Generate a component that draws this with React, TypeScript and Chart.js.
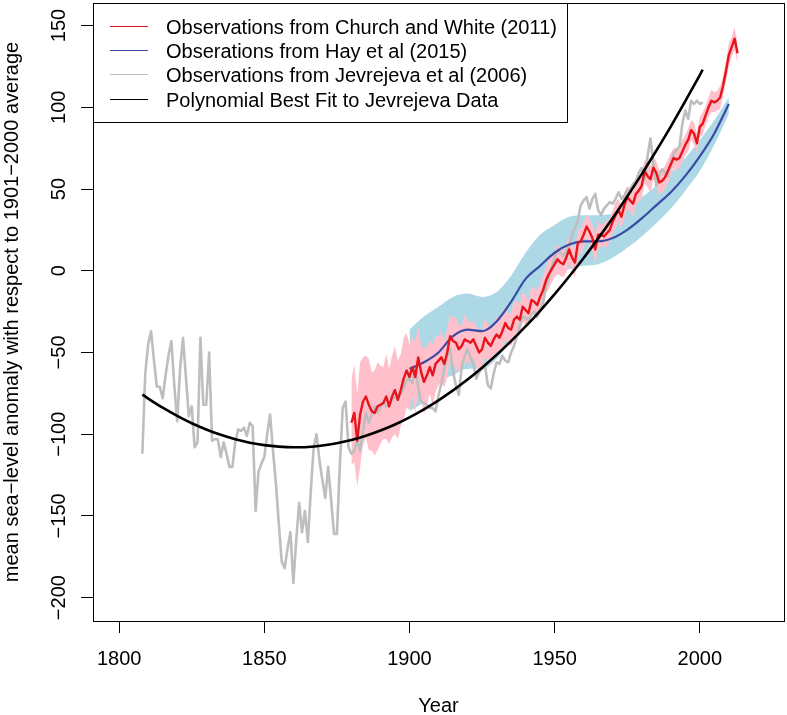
import React, { useEffect, useRef } from "react";
import { Chart, registerables } from "chart.js";

Chart.register(...registerables);

const FONT = '"Liberation Sans", Arial, Helvetica, sans-serif';

// Jevrejeva et al (2006), annual, starting 1808
const jevStartYear = 1808;
const jevValues = [
  -112, -63,
  -45, -37, -55, -71, -71, -78, -64, -52, -43, -70,
  -92, -60, -41, -65, -89, -83, -108, -105, -41, -82,
  -82, -50, -104, -103, -103, -114, -105, -112, -120, -120,
  -105, -97, -98, -96, -101, -93, -95, -147, -123, -118,
  -114, -100, -88, -110, -130, -155, -178, -182, -170, -160,
  -191, -165, -142, -160, -147, -166, -135, -108, -100, -116,
  -128, -139, -120, -140, -161, -161, -120, -84, -80, -108,
  -112, -110, -104, -110, -98, -87, -93, -88, -83, -87,
  -84, -80, -83, -82, -79, -77, -78, -75, -72, -67,
  -66, -69, -59, -71, -80, -81, -82, -84, -84, -86,
  -76, -69, -60, -52, -48, -62, -70, -76, -59, -52,
  -48, -53, -57, -66, -62, -60, -58, -70, -72, -63,
  -56, -57, -52, -55, -56, -50, -46, -40, -34, -28,
  -29, -30, -27, -25, -28, -24, -20, -10, -4, 2,
  8, 13, 11, 9, 12, 15, 22, 26, 31, 40,
  43, 45, 38, 44, 47, 37, 34, 38, 40, 42,
  41, 44, 48, 44, 46, 49, 50, 53, 55, 60,
  63, 56, 70, 81, 66, 52, 58, 62, 60, 58,
  65, 72, 74, 76, 90, 98, 93, 104, 102, 104,
  102, 103,
];

// Church and White (2011), annual, starting 1880
const cwStartYear = 1880;
const cwValues = [
  -93, -87, -104, -88, -80, -77, -82, -86, -87, -83,
  -82, -81, -77, -83, -77, -73, -79, -73, -66, -61,
  -65, -59, -65, -53, -62, -68, -64, -59, -64, -57,
  -55, -53, -57, -50, -40, -43, -44, -48, -46, -42,
  -43, -44, -42, -46, -50, -48, -41, -44, -46, -42,
  -39, -41, -37, -32, -35, -36, -30, -28, -30, -22,
  -24, -26, -18, -19, -21, -16, -12, -6, -2, 1,
  4, 7, 5, 4, 8, 13, 8, 5, 17, 18,
  22, 27, 24, 20, 13, 22, 22, 21, 23, 25,
  30, 34, 37, 33, 40, 45, 43, 41, 47, 49,
  52, 61, 58, 56, 63, 60, 54, 55, 57, 61,
  65, 69, 68, 69, 73, 77, 80, 86, 84, 78,
  88, 90, 95, 100, 104, 103, 104, 106, 113, 122,
  132, 137, 142, 133,
];
// Church and White uncertainty (half-width of the pink band)
const cwErr = [
  26, 30, 28, 32, 27, 25, 28, 24, 26, 27,
  24, 22, 26, 23, 25, 27, 24, 22, 25, 23,
  20, 18, 22, 19, 17, 20, 18, 16, 19, 17,
  15, 16, 14, 15, 13, 14, 16, 14, 13, 15,
  12, 13, 11, 12, 13, 11, 12, 11, 12, 10,
  11, 10, 11, 10, 9, 10, 11, 9, 10, 9,
  9, 8, 9, 8, 9, 8, 9, 8, 9, 8,
  8, 9, 8, 8, 9, 8, 8, 9, 8, 8,
  8, 7, 8, 8, 9, 8, 7, 7, 8, 7,
  7, 8, 7, 7, 8, 7, 7, 8, 7, 7,
  8, 7, 7, 8, 7, 7, 8, 7, 7, 7,
  7, 6, 7, 6, 7, 6, 7, 6, 7, 6,
  6, 7, 6, 6, 7, 6, 6, 7, 6, 6,
  7, 6, 7, 6,
];

// Hay et al (2015)
const hayYears = [1900, 1905, 1910, 1915, 1920, 1925, 1930, 1935, 1940, 1945, 1950, 1955, 1960, 1965, 1970, 1975, 1980, 1985, 1990, 1995, 2000, 2005, 2010];
const hayValues = [-60, -56, -50, -40, -36, -37, -31, -19, -5, 3, 11, 16, 18, 18, 20, 25, 32, 40, 48, 58, 70, 84, 102];
const hayUpper = [-36, -28, -22, -16, -14, -16, -13, -3, 11, 22, 28, 33, 34, 34, 35, 39, 45, 52, 60, 69, 80, 92, 106];
const hayLower = [-86, -80, -68, -64, -60, -60, -54, -42, -28, -16, -3, 1, 3, 4, 8, 14, 21, 29, 38, 49, 61, 77, 96];

// Polynomial best fit to Jevrejeva data
const fitYears = [1808, 1810, 1815, 1820, 1825, 1830, 1835, 1840, 1845, 1850, 1855, 1860, 1865, 1870, 1875, 1880, 1885, 1890, 1895, 1900, 1905, 1910, 1915, 1920, 1925, 1930, 1935, 1940, 1945, 1950, 1955, 1960, 1965, 1970, 1975, 1980, 1985, 1990, 1995, 2000, 2001];
const fitValues = [-75.8, -78.2, -83.8, -88.8, -93.3, -97.1, -100.4, -103.1, -105.2, -106.7, -107.6, -108, -107.8, -106.9, -105.5, -103.6, -101, -97.8, -94.1, -89.7, -84.8, -79.3, -73.2, -66.6, -59.3, -51.5, -43.1, -34.1, -24.5, -14.3, -3.5, 7.8, 19.8, 32.3, 45.4, 59.1, 73.4, 88.2, 103.7, 119.7, 123];

const xTicks = [1800, 1850, 1900, 1950, 2000];
const yTicks = [-200, -150, -100, -50, 0, 50, 100, 150];

const legendLabels = [
  "Observations from Church and White (2011)",
  "Obserations from Hay et al (2015)",
  "Observations from Jevrejeva et al (2006)",
  "Polynomial Best Fit to Jevrejeva Data",
];
const legendColors = ["#e8141c", "#3a4ba5", "#bebebe", "#000000"];

const xTitle = "Year";
const yTitle = "mean sea\u2212level anomaly with respect to 1901\u22122000 average";

const fmtTick = (v: number) => (v < 0 ? "\u2212" + Math.abs(v) : String(v));

const decorPlugin = {
  id: "decor",
  afterDraw(chart: any) {
    const { ctx, chartArea, scales } = chart;
    const { left, top, right, bottom } = chartArea;
    const x = scales.x;
    const y = scales.y;
    ctx.save();
    // plot box
    ctx.strokeStyle = "#000";
    ctx.lineWidth = 1;
    ctx.strokeRect(left + 0.5, top + 0.5, right - left, bottom - top);

    ctx.fillStyle = "#000";
    ctx.font = `20px ${FONT}`;
    // x tick labels
    ctx.textAlign = "center";
    ctx.textBaseline = "alphabetic";
    xTicks.forEach((v) => {
      ctx.fillText(String(v), x.getPixelForValue(v), 665);
    });
    // y tick labels (rotated)
    yTicks.forEach((v) => {
      ctx.save();
      ctx.translate(65, y.getPixelForValue(v));
      ctx.rotate(-Math.PI / 2);
      ctx.fillText(fmtTick(v), 0, 0);
      ctx.restore();
    });
    // axis titles
    ctx.fillText(xTitle, (left + right) / 2, 712);
    ctx.save();
    ctx.translate(18, (top + bottom) / 2);
    ctx.rotate(-Math.PI / 2);
    ctx.fillText(yTitle, 0, 0);
    ctx.restore();

    // legend
    const textX = left + 73;
    let maxW = 0;
    legendLabels.forEach((l) => {
      maxW = Math.max(maxW, ctx.measureText(l).width);
    });
    const boxW = Math.round(textX - left + maxW + 10);
    const boxH = 119;
    ctx.fillStyle = "#fff";
    ctx.fillRect(left + 0.5, top + 0.5, boxW, boxH);
    ctx.strokeStyle = "#000";
    ctx.lineWidth = 1;
    ctx.strokeRect(left + 0.5, top + 0.5, boxW, boxH);
    ctx.textAlign = "left";
    legendLabels.forEach((l, i) => {
      const ly = Math.round(top + 23 + 24.2 * i) + 0.5;
      ctx.strokeStyle = legendColors[i];
      ctx.lineWidth = 1;
      ctx.beginPath();
      ctx.moveTo(left + 17, ly);
      ctx.lineTo(left + 55, ly);
      ctx.stroke();
      ctx.fillStyle = "#000";
      ctx.fillText(l, textX, top + 31 + 24.2 * i);
    });
    ctx.restore();
  },
};

export default function App() {
  const canvasRef = useRef<HTMLCanvasElement | null>(null);

  useEffect(() => {
    const canvas = canvasRef.current;
    if (!canvas) return;

    const jevPts = jevValues.map((v, i) => ({ x: jevStartYear + i, y: v }));
    const cwPts = cwValues.map((v, i) => ({ x: cwStartYear + i, y: v }));
    const cwUpPts = cwValues.map((v, i) => ({ x: cwStartYear + i, y: v + cwErr[i] }));
    const cwLoPts = cwValues.map((v, i) => ({ x: cwStartYear + i, y: v - cwErr[i] }));
    const hayPts = hayYears.map((yr, i) => ({ x: yr, y: hayValues[i] }));
    const hayUpPts = hayYears.map((yr, i) => ({ x: yr, y: hayUpper[i] }));
    const hayLoPts = hayYears.map((yr, i) => ({ x: yr, y: hayLower[i] }));
    const fitPts = fitYears.map((yr, i) => ({ x: yr, y: fitValues[i] }));

    const none = "rgba(0,0,0,0)";
    const chart = new Chart(canvas, {
      type: "line",
      data: {
        datasets: [
          { label: "fit", data: fitPts, borderColor: "#000", borderWidth: 2.6, cubicInterpolationMode: "monotone", order: 0, fill: false },
          { label: "cw", data: cwPts, borderColor: legendColors[0], borderWidth: 2.4, order: 1, fill: false },
          { label: "hay", data: hayPts, borderColor: legendColors[1], borderWidth: 2.2, cubicInterpolationMode: "monotone", order: 2, fill: false },
          { label: "jev", data: jevPts, borderColor: legendColors[2], borderWidth: 2.6, order: 3, fill: false },
          { label: "cwUp", data: cwUpPts, borderColor: none, borderWidth: 0, backgroundColor: "#ffc0cb", fill: "+1", order: 4 },
          { label: "cwLo", data: cwLoPts, borderColor: none, borderWidth: 0, backgroundColor: none, fill: false, order: 5 },
          { label: "hayUp", data: hayUpPts, borderColor: none, borderWidth: 0, backgroundColor: "#add8e6", fill: "+1", cubicInterpolationMode: "monotone", order: 6 },
          { label: "hayLo", data: hayLoPts, borderColor: none, borderWidth: 0, backgroundColor: none, fill: false, cubicInterpolationMode: "monotone", order: 7 },
        ],
      },
      options: {
        animation: false,
        responsive: false,
        devicePixelRatio: 1,
        parsing: false,
        normalized: true,
        elements: { point: { radius: 0, hoverRadius: 0 }, line: { borderJoinStyle: "round", borderCapStyle: "butt" } },
        layout: { padding: { left: 0, top: 3, right: 3, bottom: 0 } },
        plugins: { legend: { display: false }, tooltip: { enabled: false }, title: { display: false } },
        events: [],
        scales: {
          x: {
            type: "linear",
            min: 1791,
            max: 2029,
            afterBuildTicks: (s: any) => {
              s.ticks = xTicks.map((v) => ({ value: v }));
            },
            afterFit: (s: any) => {
              s.height = 94;
            },
            ticks: { display: false },
            grid: { drawOnChartArea: false, drawTicks: true, tickLength: 12, color: "#000", lineWidth: 1 },
            border: { display: false },
          },
          y: {
            type: "linear",
            min: -214.3,
            max: 163.8,
            afterBuildTicks: (s: any) => {
              s.ticks = yTicks.map((v) => ({ value: v }));
            },
            afterFit: (s: any) => {
              s.width = 93;
            },
            ticks: { display: false },
            grid: { drawOnChartArea: false, drawTicks: true, tickLength: 12, color: "#000", lineWidth: 1 },
            border: { display: false },
          },
        },
      } as any,
      plugins: [decorPlugin],
    });
    return () => chart.destroy();
  }, []);

  return (
    <div style={{ position: "absolute", left: 0, top: 0, width: 787, height: 715, background: "#fff" }}>
      <canvas ref={canvasRef} width={787} height={715} style={{ display: "block", width: 787, height: 715 }} />
    </div>
  );
}
